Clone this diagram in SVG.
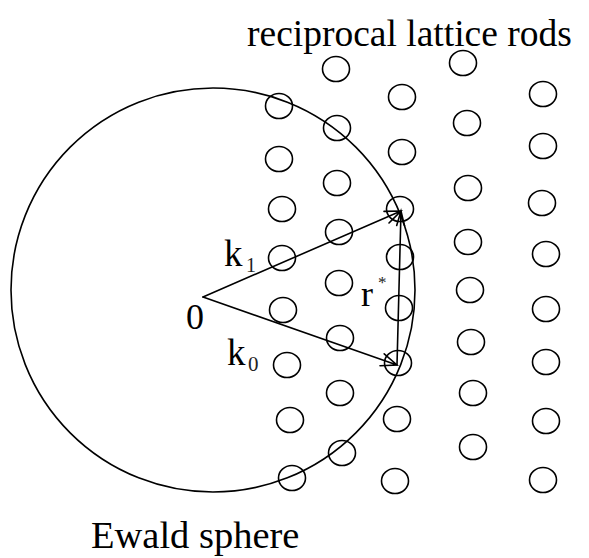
<svg xmlns="http://www.w3.org/2000/svg" width="589" height="558" viewBox="0 0 589 558">
<style>
.rod{fill:none;stroke:#000;stroke-width:1.6}
.ln{fill:none;stroke:#000;stroke-width:1.6;stroke-linecap:round}
.t{font-family:"Liberation Serif","Times New Roman",serif;fill:#000}
.s{font-family:"Liberation Serif","Times New Roman",serif;fill:#222}
</style>
<rect width="589" height="558" fill="#fff"/>
<g id="ewald-sphere">
<circle cx="213" cy="290" r="202" class="ln"/>
</g>
<g id="rods">
<ellipse class="rod" cx="279" cy="106" rx="13.5" ry="12.5"/>
<ellipse class="rod" cx="279" cy="159" rx="13.5" ry="12.5"/>
<ellipse class="rod" cx="282" cy="209" rx="13.5" ry="12.5"/>
<ellipse class="rod" cx="282" cy="258" rx="13.5" ry="12.5"/>
<ellipse class="rod" cx="283" cy="310" rx="13.5" ry="12.5"/>
<ellipse class="rod" cx="287" cy="365" rx="13.5" ry="12.5"/>
<ellipse class="rod" cx="290" cy="420" rx="13.5" ry="12.5"/>
<ellipse class="rod" cx="292" cy="478" rx="13.5" ry="12.5"/>
<ellipse class="rod" cx="336" cy="69" rx="13.5" ry="12.5"/>
<ellipse class="rod" cx="337" cy="128" rx="13.5" ry="12.5"/>
<ellipse class="rod" cx="337" cy="183" rx="13.5" ry="12.5"/>
<ellipse class="rod" cx="339" cy="232" rx="13.5" ry="12.5"/>
<ellipse class="rod" cx="339" cy="283" rx="13.5" ry="12.5"/>
<ellipse class="rod" cx="340" cy="338" rx="13.5" ry="12.5"/>
<ellipse class="rod" cx="340" cy="393" rx="13.5" ry="12.5"/>
<ellipse class="rod" cx="342" cy="453" rx="13.5" ry="12.5"/>
<ellipse class="rod" cx="402" cy="97" rx="13.5" ry="12.5"/>
<ellipse class="rod" cx="402" cy="152" rx="13.5" ry="12.5"/>
<ellipse class="rod" cx="400" cy="209" rx="13.5" ry="12.5"/>
<ellipse class="rod" cx="400" cy="257" rx="13.5" ry="12.5"/>
<ellipse class="rod" cx="399" cy="308" rx="13.5" ry="12.5"/>
<ellipse class="rod" cx="398" cy="363" rx="13.5" ry="12.5"/>
<ellipse class="rod" cx="397" cy="419" rx="13.5" ry="12.5"/>
<ellipse class="rod" cx="395" cy="481" rx="13.5" ry="12.5"/>
<ellipse class="rod" cx="463" cy="63" rx="13.5" ry="12.5"/>
<ellipse class="rod" cx="467" cy="123" rx="13.5" ry="12.5"/>
<ellipse class="rod" cx="468" cy="188" rx="13.5" ry="12.5"/>
<ellipse class="rod" cx="468" cy="242" rx="13.5" ry="12.5"/>
<ellipse class="rod" cx="470" cy="290" rx="13.5" ry="12.5"/>
<ellipse class="rod" cx="471" cy="342" rx="13.5" ry="12.5"/>
<ellipse class="rod" cx="473" cy="393" rx="13.5" ry="12.5"/>
<ellipse class="rod" cx="473" cy="447" rx="13.5" ry="12.5"/>
<ellipse class="rod" cx="543" cy="94" rx="13.5" ry="12.5"/>
<ellipse class="rod" cx="543" cy="146" rx="13.5" ry="12.5"/>
<ellipse class="rod" cx="542" cy="203" rx="13.5" ry="12.5"/>
<ellipse class="rod" cx="546" cy="254" rx="13.5" ry="12.5"/>
<ellipse class="rod" cx="546" cy="309" rx="13.5" ry="12.5"/>
<ellipse class="rod" cx="546" cy="362" rx="13.5" ry="12.5"/>
<ellipse class="rod" cx="546" cy="421" rx="13.5" ry="12.5"/>
<ellipse class="rod" cx="543" cy="480" rx="13.5" ry="12.5"/>
</g>
<g id="connectors">
<path class="ln" d="M203,297 L401,211 M384,211.4 L401,211 L389,223"/>
<path class="ln" d="M203,297 L397,365 M380,365.8 L397,365 L384.2,353.8"/>
<path class="ln" d="M397,365 L401,211 M396.7,225.4 L401,211 L404.5,225.6"/>
</g>
<g id="labels">
<text class="t" x="247" y="46" font-size="37.5">reciprocal lattice rods</text>
<text class="t" x="91" y="548" font-size="38.5">Ewald sphere</text>
<text class="t" x="186" y="329" font-size="36">0</text>
<text class="t" x="224" y="266" font-size="37">k</text>
<text class="s" x="246" y="272" font-size="20">1</text>
<text class="t" x="227" y="365" font-size="37">k</text>
<text class="s" x="248" y="371" font-size="21">0</text>
<text class="t" x="361" y="306" font-size="36">r</text>
<text class="s" x="378" y="288" font-size="17">*</text>
</g>
</svg>
